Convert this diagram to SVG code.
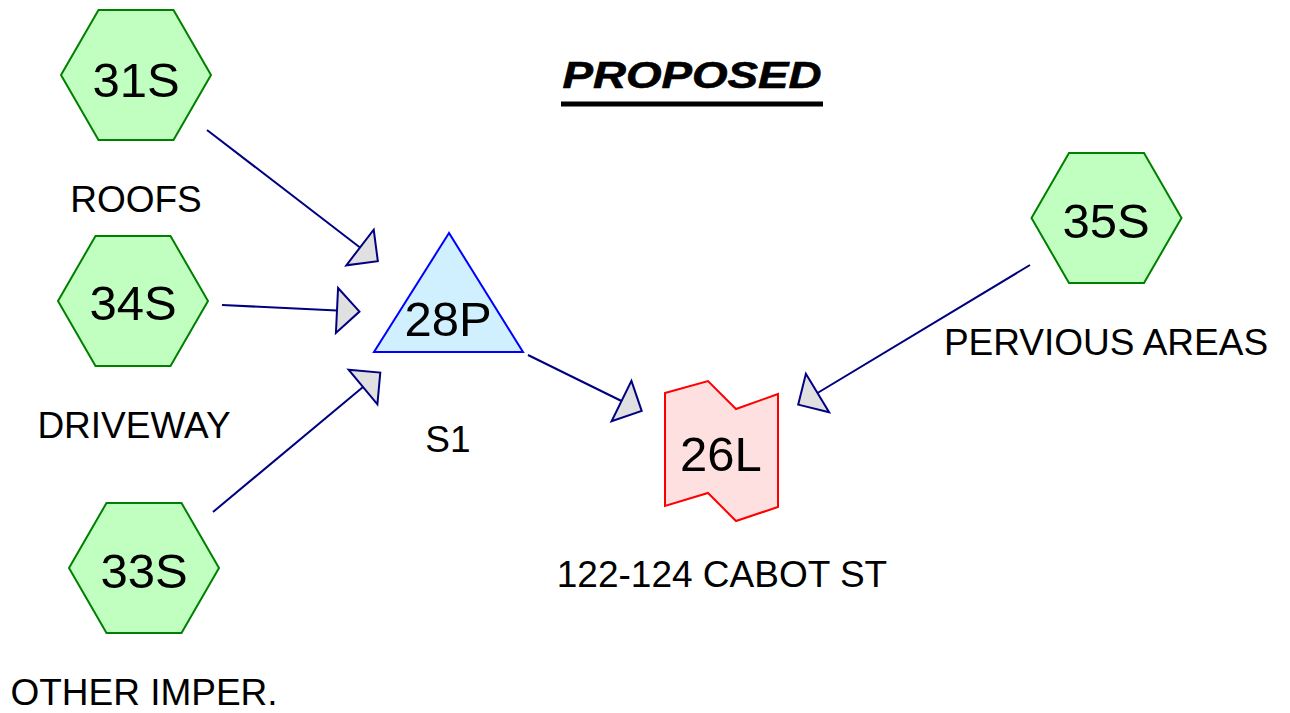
<svg xmlns="http://www.w3.org/2000/svg" width="1290" height="713" viewBox="0 0 1290 713">
<style>
.hex{fill:#C0FFC0;stroke:#008000;stroke-width:2}
.pond{fill:#D0F0FF;stroke:#0000FF;stroke-width:2}
.link{fill:#FFE0E0;stroke:#FF0000;stroke-width:2}
.id{font-family:"Liberation Sans",Arial,sans-serif;font-size:49px;fill:#000;text-anchor:middle}
.lbl{font-family:"Liberation Sans",Arial,sans-serif;font-size:37px;fill:#000;text-anchor:middle}
.title{font-family:"Liberation Sans",Arial,sans-serif;font-size:36px;font-weight:bold;font-style:italic;fill:#000;stroke:#000;stroke-width:0.6;text-anchor:middle}
.conn{stroke:#000080;stroke-width:2;fill:none;marker-end:url(#arr)}
</style>
<defs>
<polygon id="hexshape" points="-75,0 -37.5,-65 37.5,-65 75,0 37.5,65 -37.5,65"/>
<marker id="arr" markerUnits="userSpaceOnUse" viewBox="-2 -25 28 50" refX="0" refY="0" markerWidth="28" markerHeight="50" orient="auto" overflow="visible">
<path d="M0,-22.5 L22.5,0 L0,22.5 Z" fill="#E0E0E0" stroke="#000080" stroke-width="2" stroke-linejoin="miter"/>
</marker>
</defs>
<rect width="1290" height="713" fill="#FFFFFF"/>
<g id="title">
<text class="title" x="692" y="88" textLength="259" lengthAdjust="spacingAndGlyphs">PROPOSED</text>
<line x1="561" y1="104" x2="823" y2="104" stroke="#000" stroke-width="5"/>
</g>
<g id="connectors">
<line class="conn" x1="207" y1="130" x2="360" y2="247.5"/>
<line class="conn" x1="222" y1="305" x2="337" y2="310.5"/>
<line class="conn" x1="213" y1="512" x2="363" y2="387"/>
<line class="conn" x1="528" y1="355" x2="621.5" y2="401"/>
<line class="conn" x1="1030" y1="265" x2="817.5" y2="393"/>
</g>
<g id="node-31S">
<use href="#hexshape" class="hex" transform="translate(136,75)"/>
<text class="id" x="136" y="97">31S</text>
<text class="lbl" x="136" y="212">ROOFS</text>
</g>
<g id="node-34S">
<use href="#hexshape" class="hex" transform="translate(133,301)"/>
<text class="id" x="133" y="320">34S</text>
<text class="lbl" x="134" y="438">DRIVEWAY</text>
</g>
<g id="node-33S">
<use href="#hexshape" class="hex" transform="translate(144,568)"/>
<text class="id" x="144" y="588">33S</text>
<text class="lbl" x="144" y="705">OTHER IMPER.</text>
</g>
<g id="node-35S">
<use href="#hexshape" class="hex" transform="translate(1106.5,218)"/>
<text class="id" x="1106" y="238">35S</text>
<text class="lbl" x="1106" y="355">PERVIOUS AREAS</text>
</g>
<g id="node-28P">
<polygon class="pond" points="449,233 374,352 523,352"/>
<text class="id" x="448" y="336">28P</text>
<text class="lbl" x="448" y="452">S1</text>
</g>
<g id="node-26L">
<polygon class="link" points="665,393 708,381 736,409 778,394 778,507 736,521 708,493 665,506"/>
<text class="id" x="721" y="471">26L</text>
<text class="lbl" x="722" y="587">122-124 CABOT ST</text>
</g>
</svg>
